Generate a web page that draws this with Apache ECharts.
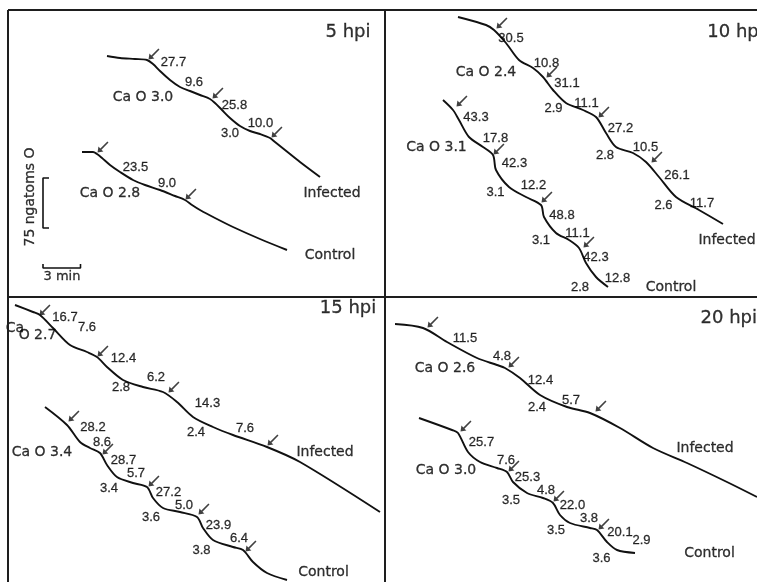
<!DOCTYPE html>
<html>
<head>
<meta charset="utf-8">
<script src="https://cdn.jsdelivr.net/npm/echarts@6/dist/echarts.min.js"></script>
<style>
html,body{margin:0;padding:0;background:#fff;}
#chart{width:757px;height:582px;}
</style>
</head>
<body>
<div id="chart"></div>
<script>
// ---- Data: time (min) vs. oxygen consumed (ngatoms O) ----
const panelTitles = ['5 hpi', '10 hpi', '15 hpi', '20 hpi'];

// 5 hpi
const p1Infected = [[7.92,69],[8.96,72],[10.16,73.5],[11.12,75],[11.6,81],[12.16,91.5],[12.96,105],[13.76,115.5],[14.56,121.5],[15.36,127.5],[16.16,133.5],[16.56,139.5],[17.12,150],[17.76,162],[18.56,174],[19.36,181.5],[20.16,186],[20.96,192],[21.36,198],[22.16,210],[23.36,228],[24.96,250.5]];
const p1Control = [[5.92,213],[6.8,213],[7.12,216],[7.52,222],[8.16,232.5],[8.96,243],[10.0,255],[10.96,262.5],[12.16,270],[13.36,279],[14.16,285],[14.72,292.5],[15.36,300],[16.56,312],[18.0,325.5],[20.16,343.5],[22.32,360]];
const p1Arrows = [[11.2,75],[16.32,133.5],[21.04,192],[7.12,214.5],[14.16,285]];
const p1Rates = [[13.24,78,'27.7'],[14.88,108,'9.6'],[18.12,142.5,'25.8'],[20.2,169.5,'10.0'],[17.76,184.5,'3.0'],[10.2,235.5,'23.5'],[12.72,259.5,'9.0']];
const p1Words = [[10.8,130.5,'Ca O 3.0'],[25.92,274.5,'Infected'],[8.16,274.5,'Ca O 2.8'],[25.76,367.5,'Control']];

// 10 hpi
const p2Infected = [[5.6,10.5],[7.84,22.5],[8.48,30],[9.44,49.5],[10.48,75],[11.6,87],[12.4,100.5],[13.2,120],[14.24,139.5],[15.6,150],[16.64,160.5],[17.44,184.5],[18.24,205.5],[19.6,214.5],[20.64,228],[21.68,250.5],[23.04,280.5],[24.88,300],[26.8,321]];
const p2Control = [[4.4,135],[5.2,150],[5.68,165],[6.48,190.5],[7.6,205.5],[8.4,217.5],[8.64,240],[9.68,265.5],[11.04,280.5],[12.24,292.5],[12.48,310.5],[13.44,334.5],[14.48,345],[15.28,357],[15.84,379.5],[16.64,400.5],[17.6,415.5]];
const p2Arrows = [[8.64,28.5],[12.64,102],[16.8,162],[21.04,229.5],[5.44,145.5],[8.4,217.5],[12.24,289.5],[15.6,357]];
const p2Rates = [[9.84,42,'30.5'],[12.68,79.5,'10.8'],[14.32,109.5,'31.1'],[15.88,139.5,'11.1'],[13.24,147,'2.9'],[18.6,177,'27.2'],[20.6,205.5,'10.5'],[17.36,217.5,'2.8'],[23.12,247.5,'26.1'],[22.04,292.5,'2.6'],[25.12,289.5,'11.7'],
  [7.04,160.5,'43.3'],[8.6,192,'17.8'],[10.12,229.5,'42.3'],[8.6,273,'3.1'],[11.64,262.5,'12.2'],[13.92,307.5,'48.8'],[12.24,345,'3.1'],[15.16,334.5,'11.1'],[16.64,370.5,'42.3'],[15.36,415.5,'2.8'],[18.36,402,'12.8']];
const p2Words = [[7.84,93,'Ca O 2.4'],[27.12,345,'Infected'],[3.88,205.5,'Ca O 3.1'],[22.64,415.5,'Control']];

// 15 hpi
const p3Infected = [[0.56,12],[2.0,22.5],[2.56,27],[3.6,46.5],[4.96,72],[6.32,82.5],[7.12,90],[7.92,105],[9.2,124.5],[10.8,135],[12.4,142.5],[13.52,157.5],[14.8,180],[16.4,195],[18.0,207],[20.72,225],[23.36,247.5],[29.76,322.5]];
const p3Control = [[2.96,165],[4.72,192],[5.76,217.5],[6.56,226.5],[7.36,234],[7.92,252],[8.72,270],[10.0,279],[11.12,285],[11.6,301.5],[12.4,316.5],[13.76,322.5],[15.12,330],[15.6,346.5],[16.4,364.5],[18.0,375],[18.8,379.5],[19.6,397.5],[20.72,414],[22.32,424.5]];
const p3Arrows = [[2.48,28.5],[7.12,90],[12.8,144],[20.72,223.5],[4.8,187.5],[7.52,237],[11.2,285],[15.2,327],[18.96,382.5]];
const p3Rates = [[4.56,30,'16.7'],[6.32,45,'7.6'],[9.24,91.5,'12.4'],[9.04,135,'2.8'],[11.84,120,'6.2'],[15.96,159,'14.3'],[15.04,202.5,'2.4'],[18.96,196.5,'7.6'],
  [6.8,195,'28.2'],[7.52,217.5,'8.6'],[9.24,244.5,'28.7'],[10.24,264,'5.7'],[8.08,286.5,'3.4'],[12.84,292.5,'27.2'],[14.08,312,'5.0'],[11.44,330,'3.6'],[16.84,342,'23.9'],[18.48,361.5,'6.4'],[15.48,379.5,'3.8']];
const p3Words = [[0.56,46.5,'Ca'],[2.36,57,'O 2.7'],[25.36,232.5,'Infected'],[2.72,232.5,'Ca O 3.4'],[25.24,412.5,'Control']];

// 20 hpi
const p4Infected = [[0.8,40.5],[3.04,46.5],[4.96,67.5],[7.36,91.5],[8.96,102],[9.6,106.5],[10.8,121.5],[12.4,147],[14.56,165],[16.4,174],[18.8,196.5],[21.44,226.5],[24.16,249],[27.36,277.5],[29.76,300]];
const p4Control = [[2.72,181.5],[5.36,199.5],[5.84,204],[6.64,232.5],[7.6,247.5],[8.96,256.5],[9.76,262.5],[10.24,277.5],[11.36,294],[12.64,301.5],[13.44,309],[14.0,327],[14.8,339],[16.4,346.5],[16.96,349.5],[17.76,367.5],[18.56,379.5],[20.0,384]];
const p4Arrows = [[3.36,46.5],[9.84,106.5],[16.8,172.5],[6.0,202.5],[9.84,262.5],[13.44,307.5],[17.04,349.5]];
const p4Rates = [[6.4,61.5,'11.5'],[9.36,88.5,'4.8'],[12.44,124.5,'12.4'],[12.16,165,'2.4'],[14.88,154.5,'5.7'],
  [7.72,217.5,'25.7'],[9.68,244.5,'7.6'],[11.4,270,'25.3'],[12.88,289.5,'4.8'],[10.08,304.5,'3.5'],[15.0,312,'22.0'],[16.32,331.5,'3.8'],[13.68,349.5,'3.5'],[18.8,352.5,'20.1'],[20.52,364.5,'2.9'],[17.32,391.5,'3.6']];
const p4Words = [[4.8,106.5,'Ca O 2.6'],[25.6,226.5,'Infected'],[4.88,259.5,'Ca O 3.0'],[25.96,384,'Control']];

// Title anchor (time, ngatoms) per panel
const titleAnchors = [[27.2,33],[27.8,33],[27.2,16.5],[27.5,31.5]];

// Scale bars (drawn in panel 1)
const scaleMinutes = 3;
const scaleNgatoms = 75;
const scaleOrigin = [2.8, 252];  // top of vertical bar
const scaleTimeY = 387;          // level of horizontal bar
const scaleTexts = [[1.76,280.5,'75 ngatoms O'],[4.32,400.5,'3 min']];

// ---- Layout ----
const PX_PER_MIN = 12.5, NG_PER_PX = 1.5;
const grids = [
  {left:8, top:10, width:377, height:287, xmin:0},
  {left:385, top:10, width:372, height:287, xmin:-0.24},
  {left:8, top:297, width:377, height:285, xmin:0},
  {left:385, top:297, width:372, height:285, xmin:0}
];
const INK = '#000';
const WORD_FONT = 'DejaVu Sans';
const NUM_FONT = 'Liberation Sans';
const ARROW = 'path://M0 14 L1.2 6.5 L3.64 8.94 L12.6 0 L14 1.41 L5.06 10.36 L7.5 12.8 Z';
const CLEAR = 'rgba(0,0,0,0)';

const panels = [
  {inf:p1Infected, ctl:p1Control, arrows:p1Arrows, rates:p1Rates, words:p1Words},
  {inf:p2Infected, ctl:p2Control, arrows:p2Arrows, rates:p2Rates, words:p2Words},
  {inf:p3Infected, ctl:p3Control, arrows:p3Arrows, rates:p3Rates, words:p3Words},
  {inf:p4Infected, ctl:p4Control, arrows:p4Arrows, rates:p4Rates, words:p4Words}
];

function trace(gi, data){
  return {type:'line', xAxisIndex:gi, yAxisIndex:gi, data:data, smooth:0.3, symbol:'none',
    lineStyle:{color:'#111', width:1.9}, silent:true, z:3};
}
function poly(gi, data){
  return {type:'line', xAxisIndex:gi, yAxisIndex:gi, data:data, smooth:false, symbol:'none',
    lineStyle:{color:'#111', width:1.6}, silent:true, z:3};
}
function texts(gi, data, font, size, rotate){
  return {type:'scatter', xAxisIndex:gi, yAxisIndex:gi,
    data:data.map(d=>({value:[d[0],d[1]], name:d[2]})),
    symbolSize:2, itemStyle:{color:CLEAR}, silent:true, z:5,
    label:{show:true, position:'inside', formatter:p=>p.name, color:INK,
      textBorderColor:INK, textBorderWidth:0.3,
      fontFamily:font, fontSize:size, rotate:rotate||0, align:'center', verticalAlign:'middle'}};
}
function arrows(gi, data){
  return {type:'scatter', xAxisIndex:gi, yAxisIndex:gi, data:data, symbol:ARROW,
    symbolSize:11, symbolOffset:[6,-6], symbolKeepAspect:true,
    itemStyle:{color:'#111'}, silent:true, z:4};
}

const series = [];
panels.forEach((p, gi) => {
  series.push(trace(gi, p.inf));
  series.push(trace(gi, p.ctl));
  series.push(arrows(gi, p.arrows));
  series.push(texts(gi, p.rates, NUM_FONT, 13));
  series.push(texts(gi, p.words, WORD_FONT, 14));
  series.push(texts(gi, [[titleAnchors[gi][0], titleAnchors[gi][1], panelTitles[gi]]], WORD_FONT, 18));
});
// scale bars
const tickT = 0.48, tickO = 6;
const [sx, sy] = scaleOrigin;
series.push(poly(0, [[sx + tickT, sy],[sx, sy],[sx, sy + scaleNgatoms],[sx + tickT, sy + scaleNgatoms]]));
series.push(poly(0, [[sx, scaleTimeY - tickO],[sx, scaleTimeY],[sx + scaleMinutes, scaleTimeY],[sx + scaleMinutes, scaleTimeY - tickO]]));
series.push(texts(0, [scaleTexts[0]], WORD_FONT, 14, 90));
series.push(texts(0, [scaleTexts[1]], WORD_FONT, 13));

// panel frame (layout only)
const frameStyle = {stroke:'#1e1e1e', lineWidth:2};
const frame = [
  {type:'line', shape:{x1:8, y1:10, x2:757, y2:10}, style:frameStyle},
  {type:'line', shape:{x1:8, y1:10, x2:8, y2:582}, style:frameStyle},
  {type:'line', shape:{x1:385, y1:10, x2:385, y2:582}, style:frameStyle},
  {type:'line', shape:{x1:8, y1:297, x2:757, y2:297}, style:frameStyle}
];

const option = {
  backgroundColor:'#fff',
  animation:false,
  graphic: frame.map(f => Object.assign({silent:true, z:10}, f)),
  grid: grids.map(g => ({left:g.left, top:g.top, width:g.width, height:g.height, show:false, containLabel:false})),
  xAxis: grids.map((g, i) => ({type:'value', gridIndex:i, show:false, min:g.xmin, max:g.xmin + g.width / PX_PER_MIN})),
  yAxis: grids.map((g, i) => ({type:'value', gridIndex:i, show:false, inverse:true, min:0, max:g.height * NG_PER_PX})),
  series: series
};
const chart = echarts.init(document.getElementById('chart'), null, {renderer:'canvas'});
chart.setOption(option);
</script>
</body>
</html>
